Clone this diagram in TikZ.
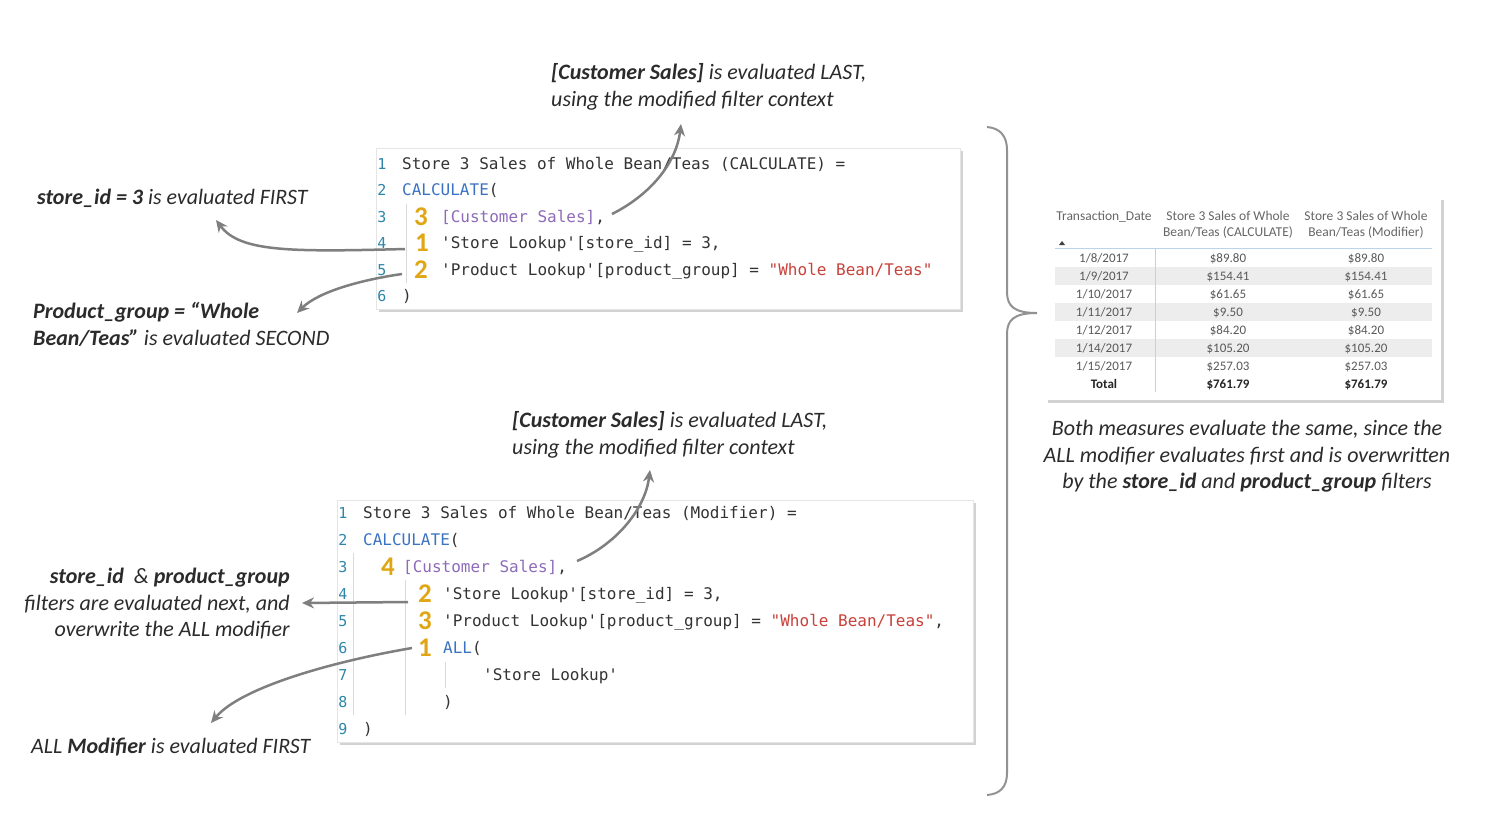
\documentclass[tikz,border=0pt]{standalone}
\usepackage{fontspec}
\setmainfont{Carlito}
\setmonofont{DejaVu Sans Mono}
\usetikzlibrary{shadows,arrows.meta}
\definecolor{txt}{HTML}{2B2B2B}
\definecolor{arr}{HTML}{7F7F7F}
\definecolor{lnum}{HTML}{2E86A8}
\definecolor{gold}{HTML}{E0A614}
\definecolor{purp}{HTML}{8E6BB8}
\definecolor{kw}{HTML}{3B73C2}
\definecolor{str}{HTML}{C8413B}
\definecolor{codec}{HTML}{333333}
\definecolor{band}{HTML}{EDEDED}
\definecolor{tline}{HTML}{B9D4EC}
\tikzset{
 ann/.style={font=\fontsize{22}{27}\selectfont\itshape, text=txt, inner sep=0pt, anchor=base west},
 codebox/.style={fill=white, draw=gray!20, drop shadow={shadow xshift=3pt,shadow yshift=-3pt,opacity=0.35}},
 cl/.style={font=\fontsize{16}{16}\selectfont\ttfamily, text=codec, anchor=base west, inner sep=0pt},
 ln/.style={font=\fontsize{15}{15}\selectfont\ttfamily, text=lnum, inner sep=0pt, anchor=base},
 ord/.style={font=\fontsize{27}{27}\selectfont\bfseries, text=gold, inner sep=0pt, anchor=base},
 flow/.style={draw=arr, line width=2.5pt, -{Stealth[length=12pt,width=11pt]}},
 guide/.style={draw=gray!30, line width=1pt},
 tb/.style={font=\fontsize{13}{14}\selectfont, text=black!65, inner sep=0pt, anchor=base},
 tbb/.style={font=\fontsize{13}{14}\selectfont\bfseries, text=black!85, inner sep=0pt, anchor=base},
 th/.style={font=\fontsize{13.5}{15}\selectfont, text=black!60, inner sep=0pt, anchor=base},
}
\begin{document}
\begin{tikzpicture}[x=1pt,y=-1pt]
\useasboundingbox (0,0) rectangle (1495,828);
\fill[white] (0,0) rectangle (1495,828);

% ---------- top code box ----------
\node[codebox, minimum width=584pt, minimum height=161pt, anchor=north west, inner sep=0pt] (topbox) at (376,148) {};
\draw[guide] (406,204) -- (406,283);
\foreach \i/\y in {1/169,2/195,3/222,4/248,5/275,6/301} \node[ln] (tn\i) at (382,\y) {\i};
\node[cl] (t1) at (402,169) {Store 3 Sales of Whole Bean/Teas (CALCULATE) =};
\node[cl] (t2) at (402,195) {\textcolor{kw}{CALCULATE}(};
\node[ord] (t3o) at (421,225) {3};
\node[cl] (t3) at (441,222) {\textcolor{purp}{[Customer Sales]},};
\node[ord] (t4o) at (422,251) {1};
\node[cl] (t4) at (441,248) {'Store Lookup'[store\_id] = 3,};
\node[ord] (t5o) at (421,278) {2};
\node[cl] (t5) at (441,275) {'Product Lookup'[product\_group] = \textcolor{str}{"Whole Bean/Teas"}};
\node[cl] (t6) at (402,301) {)};

% ---------- bottom code box ----------
\node[codebox, minimum width=636pt, minimum height=242pt, anchor=north west, inner sep=0pt] (botbox) at (337,500) {};
\draw[guide] (353,553) -- (353,715);
\draw[guide] (405,580) -- (405,715);
\draw[guide] (445,662) -- (445,688);
\foreach \i/\y in {1/518,2/545,3/572,4/599,5/626,6/653,7/680,8/707,9/734} \node[ln] (bn\i) at (343,\y) {\i};
\node[cl] (b1) at (363,518) {Store 3 Sales of Whole Bean/Teas (Modifier) =};
\node[cl] (b2) at (363,545) {\textcolor{kw}{CALCULATE}(};
\node[ord] (b3o) at (388,575) {4};
\node[cl] (b3) at (403,572) {\textcolor{purp}{[Customer Sales]},};
\node[ord] (b4o) at (425,602) {2};
\node[cl] (b4) at (443,599) {'Store Lookup'[store\_id] = 3,};
\node[ord] (b5o) at (425,629) {3};
\node[cl] (b5) at (443,626) {'Product Lookup'[product\_group] = \textcolor{str}{"Whole Bean/Teas"},};
\node[ord] (b6o) at (425,656) {1};
\node[cl] (b6) at (443,653) {\textcolor{kw}{ALL}(};
\node[cl] (b7) at (483,680) {'Store Lookup'};
\node[cl] (b8) at (443,707) {)};
\node[cl] (b9) at (363,734) {)};

% ---------- annotations ----------
\node[ann] (aTop1) at (551,79) {\textbf{[Customer Sales]} is evaluated LAST,};
\node[ann] (aTop2) at (551,106) {using the modified filter context};
\node[ann] (aFirst) at (37,204) {\textbf{store\_id = 3} is evaluated FIRST};
\node[ann] (aSec1) at (33,318) {\textbf{Product\_group = “Whole}};
\node[ann] (aSec2) at (33,345) {\textbf{Bean/Teas”} is evaluated SECOND};
\node[ann] (aBot1) at (512,427) {\textbf{[Customer Sales]} is evaluated LAST,};
\node[ann] (aBot2) at (512,454) {using the modified filter context};
\node[ann, anchor=base east] (aNext1) at (290,583) {\textbf{store\_id} \ \& \textbf{product\_group}};
\node[ann, anchor=base east] (aNext2) at (290,610) {filters are evaluated next, and};
\node[ann, anchor=base east] (aNext3) at (290,636) {overwrite the ALL modifier};
\node[ann] (aAll) at (31,753) {ALL \textbf{Modifier} is evaluated FIRST};
\node[ann, anchor=base] (aR1) at (1247,435) {Both measures evaluate the same, since the};
\node[ann, anchor=base] (aR2) at (1247,462) {ALL modifier evaluates first and is overwritten};
\node[ann, anchor=base] (aR3) at (1247,488) {by the \textbf{store\_id} and \textbf{product\_group} filters};

% ---------- arrows ----------
\coordinate (sA) at (612,214); \coordinate (eA) at (681,124);
\coordinate (sB) at (405,249); \coordinate (eB) at (216,220);
\coordinate (sC) at (402,274); \coordinate (eC) at (297,313);
\coordinate (sD) at (577,561); \coordinate (eD) at (650,470);
\coordinate (sE) at (408,602); \coordinate (eE) at (302,603);
\coordinate (sF) at (412,648); \coordinate (eF) at (211,723);
\draw[flow] (sA) .. controls (648,196) and (676,165) .. (eA);
\draw[flow] (sB) .. controls (290,252) and (240,252) .. (eB);
\draw[flow] (sC) .. controls (360,280) and (318,292) .. (eC);
\draw[flow] (sD) .. controls (615,545) and (645,510) .. (eD);
\draw[flow] (sE) -- (eE);
\draw[flow] (sF) .. controls (330,662) and (240,688) .. (eF);

% ---------- brace ----------
\draw[arr!85, line width=2pt] (987,127) .. controls (1000,128) and (1007,136) .. (1007,150) -- (1007,292) .. controls (1007,306) and (1014,313) .. (1037,313) .. controls (1014,313) and (1007,320) .. (1007,334) -- (1007,773) .. controls (1007,787) and (1000,794) .. (987,795);

% ---------- table ----------
\node[codebox, draw=none, minimum width=396pt, minimum height=203pt, anchor=north west, inner sep=0pt] (tablebox) at (1045,197) {};
\foreach \y in {267,303,339} \fill[band] (1055,\y) rectangle (1432,\y+18);
\draw[tline, line width=1pt] (1055,248) -- (1432,248);
\draw[tline, line width=1pt] (1155,248) -- (1155,392);
\node[th] (h1) at (1104,220) {Transaction\_Date};
\node[th] (h2a) at (1228,220) {Store 3 Sales of Whole};
\node[th] (h2b) at (1228,236) {Bean/Teas (CALCULATE)};
\node[th] (h3a) at (1366,220) {Store 3 Sales of Whole};
\node[th] (h3b) at (1366,236) {Bean/Teas (Modifier)};
\fill[black!75] (1059,245) -- (1065,245) -- (1062,241) -- cycle;
\node[tb] (d1) at (1104,262) {1/8/2017};   \node[tb] (c1) at (1228,262) {\$89.80};  \node[tb] (m1) at (1366,262) {\$89.80};
\node[tb] (d2) at (1104,280) {1/9/2017};   \node[tb] (c2) at (1228,280) {\$154.41}; \node[tb] (m2) at (1366,280) {\$154.41};
\node[tb] (d3) at (1104,298) {1/10/2017};  \node[tb] (c3) at (1228,298) {\$61.65};  \node[tb] (m3) at (1366,298) {\$61.65};
\node[tb] (d4) at (1104,316) {1/11/2017};  \node[tb] (c4) at (1228,316) {\$9.50};   \node[tb] (m4) at (1366,316) {\$9.50};
\node[tb] (d5) at (1104,334) {1/12/2017};  \node[tb] (c5) at (1228,334) {\$84.20};  \node[tb] (m5) at (1366,334) {\$84.20};
\node[tb] (d6) at (1104,352) {1/14/2017};  \node[tb] (c6) at (1228,352) {\$105.20}; \node[tb] (m6) at (1366,352) {\$105.20};
\node[tb] (d7) at (1104,370) {1/15/2017};  \node[tb] (c7) at (1228,370) {\$257.03}; \node[tb] (m7) at (1366,370) {\$257.03};
\node[tbb] (d8) at (1104,388) {Total};     \node[tbb] (c8) at (1228,388) {\$761.79}; \node[tbb] (m8) at (1366,388) {\$761.79};
\end{tikzpicture}
\end{document}
